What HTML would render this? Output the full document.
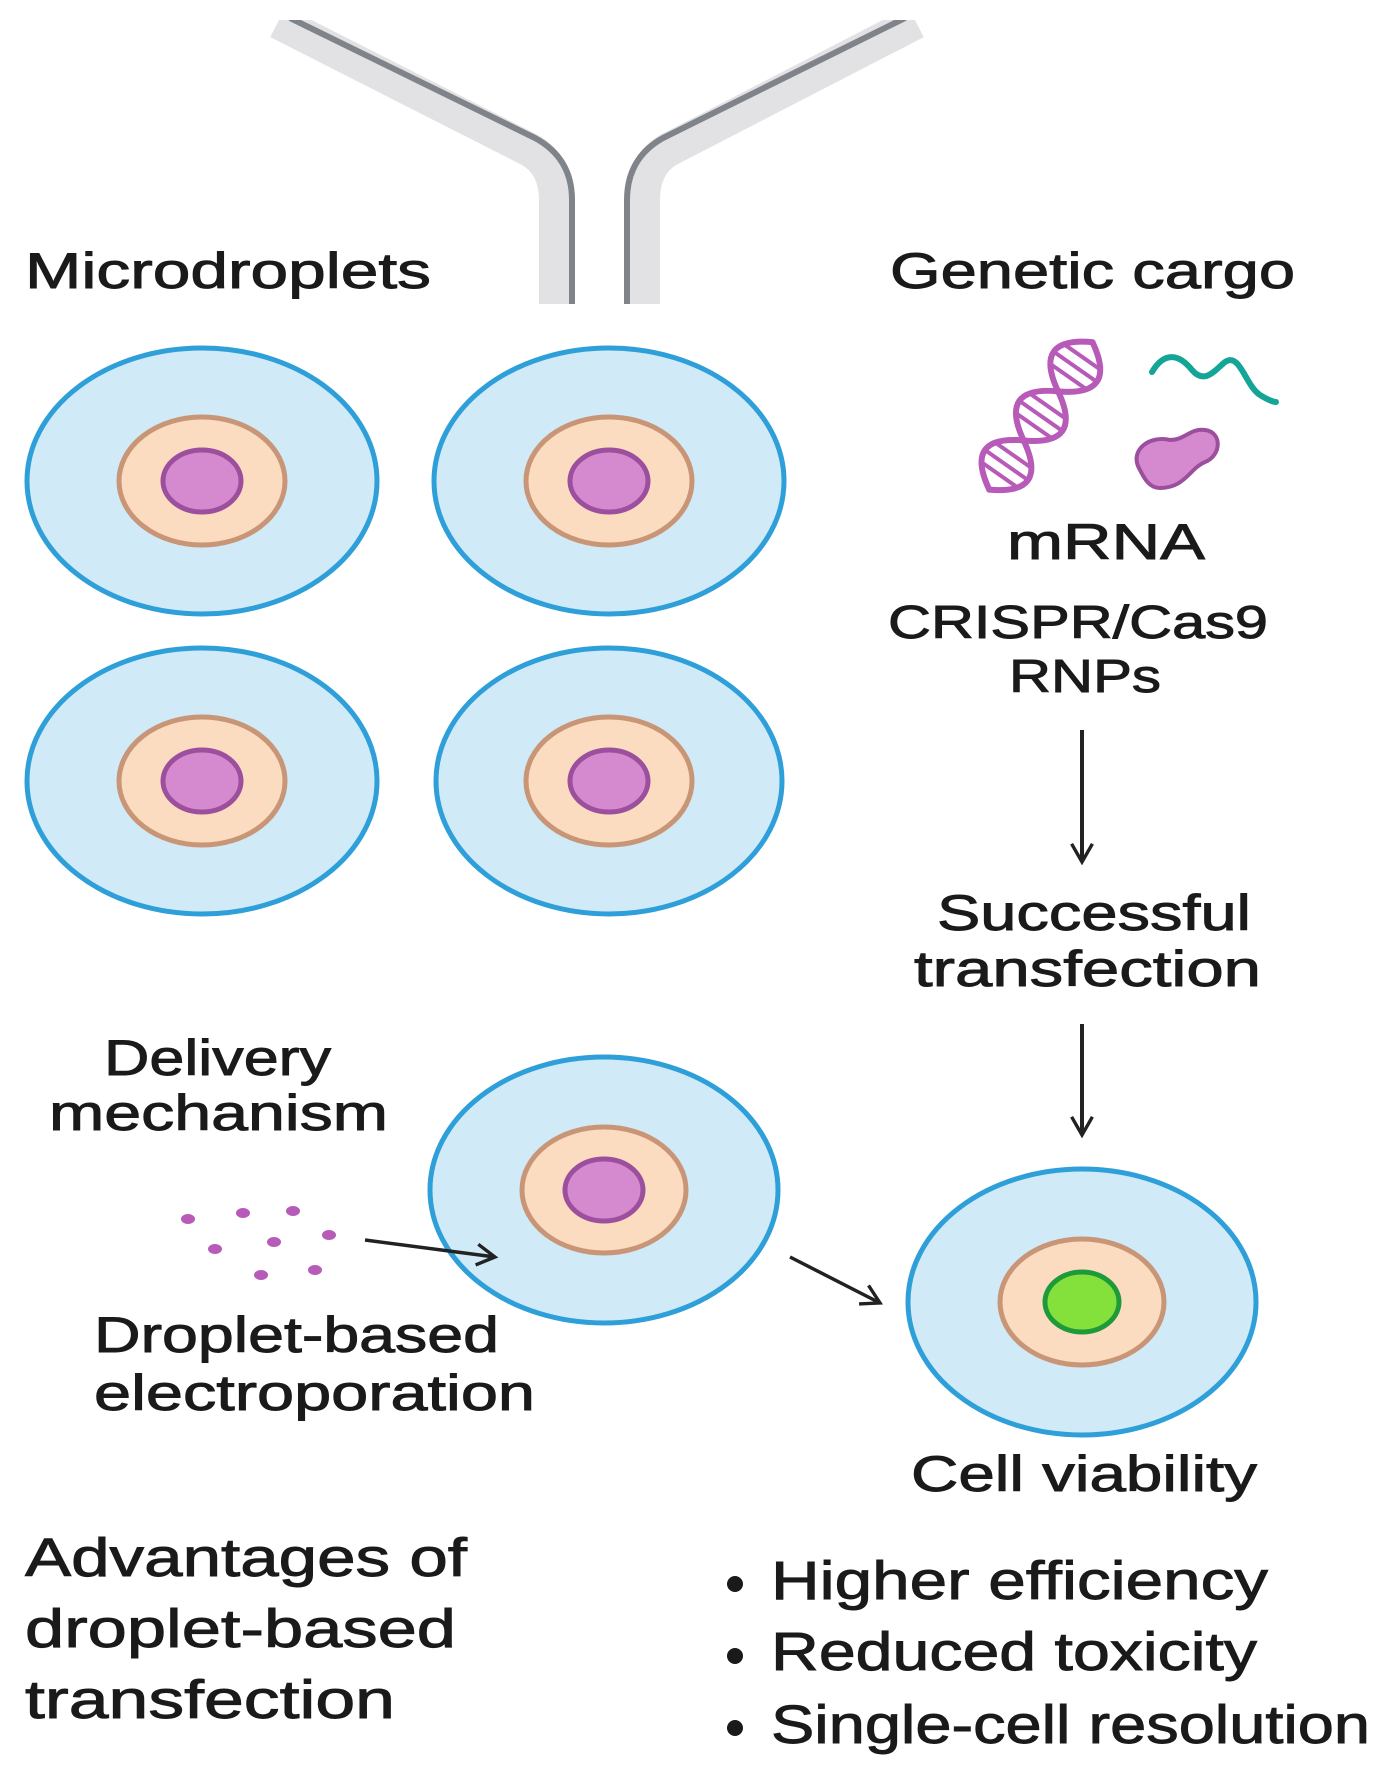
<!DOCTYPE html>
<html><head><meta charset="utf-8"><style>
html,body{margin:0;padding:0;background:#fff;}
svg{display:block;}
text{font-family:"Liberation Sans","DejaVu Sans",sans-serif;fill:#1a1a1a;stroke:#1a1a1a;stroke-width:0.9;}
</style></head><body>
<svg width="1384" height="1770" viewBox="0 0 1384 1770" xmlns="http://www.w3.org/2000/svg">
<defs>
<marker id="ah2" viewBox="0 0 20 20" refX="16" refY="10" markerWidth="26" markerHeight="26" orient="auto" markerUnits="userSpaceOnUse">
<path d="M2,2 L16,10 L2,18" fill="none" stroke="#222" stroke-width="2.6"/>
</marker>
</defs>
<!-- tubes -->
<g fill="none" stroke-linejoin="round">
<path d="M278,22 L530,150 Q556,165 556,200 L556,304" stroke="#e2e2e4" stroke-width="34"/>
<path d="M290,18 L535,138 Q572,158 572,200 L572,304" stroke="#7f848b" stroke-width="6"/>
<path d="M916,22 L668,150 Q643,165 643,200 L643,304" stroke="#e2e2e4" stroke-width="34"/>
<path d="M905,18 L663,138 Q627,158 627,200 L627,304" stroke="#7f848b" stroke-width="6"/>
</g>
<rect x="250" y="0" width="700" height="20" fill="#fff"/>
<!-- cells -->
<g stroke-width="5">
<g transform="translate(202,481)"><ellipse rx="175" ry="133" fill="#d0eaf8" stroke="#2e9fd8"/><ellipse rx="83" ry="64" fill="#fbdcc0" stroke="#c89677"/><ellipse rx="39" ry="31" fill="#d58ad0" stroke="#9b4f9d"/></g>
<g transform="translate(609,481)"><ellipse rx="175" ry="133" fill="#d0eaf8" stroke="#2e9fd8"/><ellipse rx="83" ry="64" fill="#fbdcc0" stroke="#c89677"/><ellipse rx="39" ry="31" fill="#d58ad0" stroke="#9b4f9d"/></g>
<g transform="translate(202,781)"><ellipse rx="175" ry="133" fill="#d0eaf8" stroke="#2e9fd8"/><ellipse rx="83" ry="64" fill="#fbdcc0" stroke="#c89677"/><ellipse rx="39" ry="31" fill="#d58ad0" stroke="#9b4f9d"/></g>
<g transform="translate(609,781)"><ellipse rx="173" ry="133" fill="#d0eaf8" stroke="#2e9fd8"/><ellipse rx="83" ry="64" fill="#fbdcc0" stroke="#c89677"/><ellipse rx="39" ry="31" fill="#d58ad0" stroke="#9b4f9d"/></g>
<g transform="translate(604,1190)"><ellipse rx="174" ry="133" fill="#d0eaf8" stroke="#2e9fd8"/><ellipse rx="82" ry="63" fill="#fbdcc0" stroke="#c89677"/><ellipse rx="39" ry="31" fill="#d58ad0" stroke="#9b4f9d"/></g>
<g transform="translate(1082,1302)"><ellipse rx="174" ry="133" fill="#d0eaf8" stroke="#2e9fd8"/><ellipse rx="82" ry="63" fill="#fbdcc0" stroke="#c89677"/><ellipse rx="37" ry="30" fill="#84e03a" stroke="#1f9a3a"/></g>
</g>
<!-- DNA -->
<g transform="translate(1038,420) rotate(35) translate(0,-95)" fill="none" stroke="#b85ab8" stroke-width="6" stroke-linecap="round">
<path d="M0,0 C35,20 35,40 0,60 C-35,80 -35,100 0,120 C35,140 35,160 0,180"/>
<path d="M0,0 C-35,20 -35,40 0,60 C35,80 35,100 0,120 C-35,140 -35,160 0,180"/>
<path d="M-22,18 L22,18 M-26,30 L26,30 M-22,42 L22,42 M-22,78 L22,78 M-26,90 L26,90 M-22,102 L22,102 M-22,138 L22,138 M-26,150 L26,150 M-22,162 L22,162" stroke-width="4"/>
</g>
<path d="M1152,372 C1165,350 1180,355 1192,370 C1205,385 1215,370 1225,362 C1240,352 1245,385 1260,395 C1268,400 1274,402 1276,402" fill="none" stroke="#14a596" stroke-width="6" stroke-linecap="round"/>
<path d="M1140,470 C1128,450 1150,435 1170,440 C1185,440 1190,428 1205,430 C1222,432 1222,455 1205,462 C1190,468 1185,488 1160,488 C1150,488 1145,480 1140,470 Z" fill="#d58ad0" stroke="#9b4f9d" stroke-width="4"/>
<!-- dots -->
<g fill="#b85ab8">
<ellipse cx="188" cy="1219" rx="7" ry="5"/><ellipse cx="243" cy="1213" rx="7" ry="5"/><ellipse cx="293" cy="1211" rx="7" ry="5"/><ellipse cx="329" cy="1235" rx="7" ry="5"/><ellipse cx="274" cy="1242" rx="7" ry="5"/><ellipse cx="215" cy="1249" rx="7" ry="5"/><ellipse cx="315" cy="1270" rx="7" ry="5"/><ellipse cx="261" cy="1275" rx="7" ry="5"/>
</g>
<!-- arrows -->
<g stroke="#222" stroke-width="4" fill="none">
<line x1="1082" y1="730" x2="1082" y2="862" marker-end="url(#ah2)"/>
<line x1="1082" y1="1024" x2="1082" y2="1135" marker-end="url(#ah2)"/>
<line x1="365" y1="1240" x2="495" y2="1257" stroke-width="3.5" marker-end="url(#ah2)"/>
<line x1="790" y1="1257" x2="880" y2="1303" stroke-width="3.5" marker-end="url(#ah2)"/>
</g>
<!-- text -->
<g font-size="50">
<text x="25" y="288" textLength="406" lengthAdjust="spacingAndGlyphs">Microdroplets</text>
<text x="890" y="288" textLength="405" lengthAdjust="spacingAndGlyphs">Genetic cargo</text>
<text x="1007" y="559" textLength="198" lengthAdjust="spacingAndGlyphs">mRNA</text>
<text x="888" y="638" font-size="46" textLength="380" lengthAdjust="spacingAndGlyphs">CRISPR/Cas9</text>
<text x="1009" y="692" font-size="46" textLength="152" lengthAdjust="spacingAndGlyphs">RNPs</text>
<text x="937" y="930" textLength="314" lengthAdjust="spacingAndGlyphs">Successful</text>
<text x="914" y="986" textLength="347" lengthAdjust="spacingAndGlyphs">transfection</text>
<text x="104" y="1075" textLength="227" lengthAdjust="spacingAndGlyphs">Delivery</text>
<text x="49" y="1130" textLength="339" lengthAdjust="spacingAndGlyphs">mechanism</text>
<text x="94" y="1352" textLength="405" lengthAdjust="spacingAndGlyphs">Droplet-based</text>
<text x="94" y="1410" textLength="441" lengthAdjust="spacingAndGlyphs">electroporation</text>
<text x="911" y="1491" textLength="346" lengthAdjust="spacingAndGlyphs">Cell viability</text>
</g>
<g font-size="54">
<text x="25" y="1576" textLength="442" lengthAdjust="spacingAndGlyphs">Advantages of</text>
<text x="25" y="1647" textLength="431" lengthAdjust="spacingAndGlyphs">droplet-based</text>
<text x="25" y="1718" textLength="370" lengthAdjust="spacingAndGlyphs">transfection</text>
<text x="771" y="1599" textLength="497" lengthAdjust="spacingAndGlyphs">Higher efficiency</text>
<text x="771" y="1670" textLength="486" lengthAdjust="spacingAndGlyphs">Reduced toxicity</text>
<text x="771" y="1743" textLength="599" lengthAdjust="spacingAndGlyphs">Single-cell resolution</text>
</g>
<g fill="#1a1a1a">
<circle cx="735" cy="1584" r="8"/><circle cx="735" cy="1656" r="8"/><circle cx="735" cy="1728" r="8"/>
</g>
</svg>
</body></html>
